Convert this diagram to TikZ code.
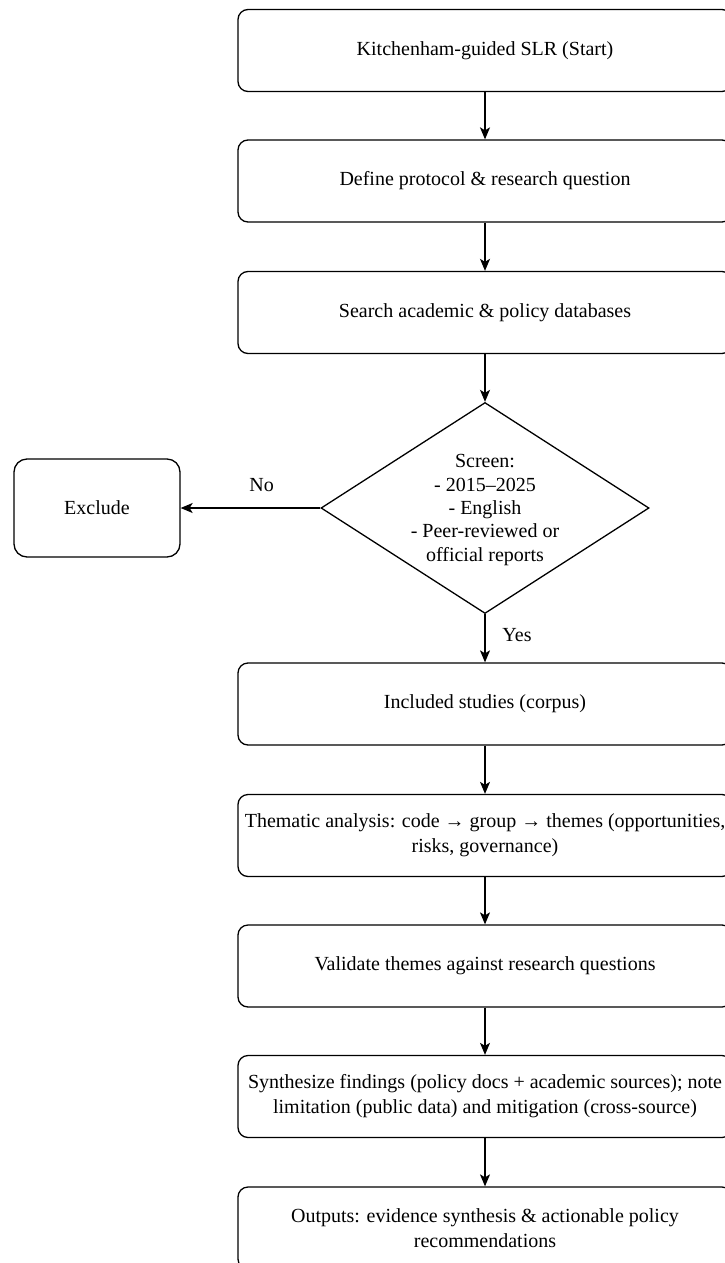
\documentclass[tikz,border=0pt]{standalone}
\usepackage{fontspec}
\setmainfont{Liberation Serif}
\usetikzlibrary{shapes.geometric,arrows.meta}
\begin{document}
\begin{tikzpicture}[x=1pt,y=-1pt,
  stepbox/.style={draw, rounded corners=10pt, line width=1.3pt, minimum width=494pt, minimum height=82pt, align=center, inner sep=0pt, font=\fontsize{20}{25}\selectfont},
  exbox/.style={draw, rounded corners=13pt, line width=1.3pt, minimum width=166pt, minimum height=98pt, align=center, inner sep=0pt, font=\fontsize{20}{25}\selectfont},
  decbox/.style={draw, diamond, line width=1.3pt, minimum width=328pt, minimum height=211pt, inner sep=0pt},
  arr/.style={line width=1.3pt, -{Stealth[length=12pt,width=10pt,inset=3pt]}},
  lbl/.style={font=\fontsize{20}{23.3}\selectfont, align=center, inner sep=0pt}
]
\useasboundingbox (0,0) rectangle (725,1263);
\node[stepbox] (b1) at (485,50.5) {Kitchenham-guided SLR (Start)};
\node[stepbox] (b2) at (485,181) {Define protocol \& research question};
\node[stepbox] (b3) at (485,312.5) {Search academic \& policy databases};
\node[decbox] (dia) at (485,508) {};
\node[lbl] (dtext) at (485,510) {Screen:\\- 2015–2025\\- English\\- Peer-reviewed or\\official reports};
\node[exbox] (ex) at (97,508) {Exclude};
\node[stepbox] (b4) at (485,704) {Included studies (corpus)};
\node[stepbox] (b5) at (485,835.5) {Thematic analysis: code → group → themes (opportunities,\\risks, governance)};
\node[stepbox] (b6) at (485,966) {Validate themes against research questions};
\node[stepbox] (b7) at (485,1096.5) {Synthesize findings (policy docs + academic sources); note\\limitation (public data) and mitigation (cross-source)};
\node[stepbox] (b8) at (485,1228) {Outputs: evidence synthesis \& actionable policy\\recommendations};
\draw[arr] (b1.south) -- (b2.north);
\draw[arr] (b2.south) -- (b3.north);
\draw[arr] (b3.south) -- (dia.north);
\draw[arr] (dia.west) -- (ex.east) node[lbl, pos=0.42, yshift=23pt] (no) {No};
\draw[arr] (dia.south) -- (b4.north) node[lbl, pos=0.44, xshift=32pt] (yes) {Yes};
\draw[arr] (b4.south) -- (b5.north);
\draw[arr] (b5.south) -- (b6.north);
\draw[arr] (b6.south) -- (b7.north);
\draw[arr] (b7.south) -- (b8.north);
\end{tikzpicture}
\end{document}
